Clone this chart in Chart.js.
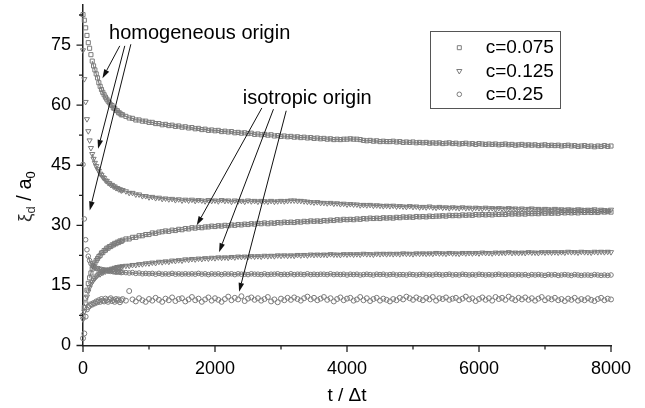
<!DOCTYPE html>
<html>
<head>
<meta charset="utf-8">
<script src="https://cdn.jsdelivr.net/npm/chart.js@4.4.1/dist/chart.umd.min.js"></script>
<style>
html,body{margin:0;padding:0;background:#fff;}
canvas{display:block;}
</style>
</head>
<body>
<canvas id="c" width="645" height="408"></canvas>
<script>
// ---- sample times (t / Δt) ----
const T_EARLY = [0,20,40,60,80,100,120,140,160,180,200,220,240,260,280,300,320,340,360,380,400,420,440,460,480,500,520,540,560,580,600];
const T_LATE = [650,700,750,800,850,900,950,1000,1050,1100,
1150,1200,1250,1300,1350,1400,1450,1500,1550,1600,
1650,1700,1750,1800,1850,1900,1950,2000,2050,2100,
2150,2200,2250,2300,2350,2400,2450,2500,2550,2600,
2650,2700,2750,2800,2850,2900,2950,3000,3050,3100,
3150,3200,3250,3300,3350,3400,3450,3500,3550,3600,
3650,3700,3750,3800,3850,3900,3950,4000,4050,4100,
4150,4200,4250,4300,4350,4400,4450,4500,4550,4600,
4650,4700,4750,4800,4850,4900,4950,5000,5050,5100,
5150,5200,5250,5300,5350,5400,5450,5500,5550,5600,
5650,5700,5750,5800,5850,5900,5950,6000,6050,6100,
6150,6200,6250,6300,6350,6400,6450,6500,6550,6600,
6650,6700,6750,6800,6850,6900,6950,7000,7050,7100,
7150,7200,7250,7300,7350,7400,7450,7500,7550,7600,
7650,7700,7750,7800,7850,7900,7950,8000];

// ---- c = 0.075, homogeneous origin (squares) ----
const sq075Homog = [82.6,81.2,79.3,77.4,75.6,74.2,72.6,71.0,69.8,68.8,67.8,66.8,65.6,64.7,63.9,63.2,62.6,62.0,61.5,61.0,60.6,60.1,59.9,59.3,59.2,58.7,58.6,58.1,58.0,57.6,57.6,
57.2,56.8,56.7,56.3,56.3,56.0,56.0,55.7,55.7,55.4,
55.4,55.1,55.2,54.9,55.0,54.7,54.8,54.5,54.6,54.3,
54.4,54.1,54.2,53.9,54.0,53.7,53.8,53.6,53.7,53.4,
53.5,53.3,53.4,53.1,53.2,53.0,53.1,52.9,53.0,52.7,
52.8,52.6,52.7,52.5,52.6,52.3,52.4,52.2,52.3,52.1,
52.2,52.0,52.1,51.9,52.0,51.8,51.9,51.7,51.8,51.6,
51.7,51.5,51.6,51.4,51.5,51.4,51.5,51.5,51.6,51.5,
51.5,51.4,51.2,51.1,51.2,51.0,51.1,50.9,51.0,50.9,
50.9,51.0,50.8,50.9,50.7,50.8,50.7,50.8,50.6,50.7,
50.6,50.7,50.5,50.6,50.5,50.6,50.4,50.5,50.6,50.4,
50.5,50.3,50.4,50.5,50.3,50.4,50.2,50.4,50.3,50.2,
50.3,50.2,50.3,50.1,50.2,50.3,50.1,50.2,50.0,50.1,
50.2,50.0,50.1,50.0,50.1,49.9,50.0,50.1,49.9,50.0,
49.9,50.0,49.8,49.9,50.0,49.8,49.9,49.7,49.8,49.9,
49.7,49.8,49.6,49.8,49.7,49.9,49.7,49.8];

// ---- c = 0.075, isotropic origin (squares) ----
const sq075Iso = [7.5,9.5,11.8,13.8,15.5,16.9,18.1,19.1,19.9,20.6,21.2,21.7,22.2,22.5,23.1,23.2,23.7,23.8,24.3,24.3,24.7,24.7,25.1,25.1,25.5,25.4,25.8,25.7,26.1,26.0,26.3,
26.6,26.6,27.0,27.0,27.4,27.4,27.7,27.7,28.1,28.0,
28.3,28.4,28.6,28.5,28.8,28.7,29.0,28.9,29.2,29.1,
29.4,29.3,29.5,29.4,29.6,29.6,29.8,29.7,29.9,29.8,
30.0,29.9,30.1,30.0,30.2,30.1,30.3,30.2,30.4,30.3,
30.5,30.4,30.6,30.4,30.6,30.5,30.7,30.6,30.8,30.7,
30.8,30.7,30.9,30.8,31.0,30.9,31.1,31.0,31.1,31.0,
31.2,31.1,31.3,31.2,31.4,31.3,31.5,31.4,31.5,31.4,
31.6,31.5,31.7,31.6,31.8,31.7,31.8,31.7,31.9,31.8,
31.9,31.8,32.0,31.9,32.1,32.0,32.1,32.0,32.2,32.1,
32.2,32.1,32.3,32.2,32.3,32.3,32.4,32.3,32.5,32.4,
32.5,32.4,32.6,32.5,32.6,32.5,32.7,32.6,32.7,32.6,
32.7,32.6,32.8,32.7,32.8,32.7,32.9,32.8,32.9,32.8,
32.9,32.8,33.0,32.9,33.0,32.9,33.1,33.0,33.1,33.0,
33.1,33.0,33.2,33.1,33.2,33.1,33.2,33.1,33.3,33.2,
33.3,33.2,33.3,33.2,33.4,33.3,33.4,33.3];

// ---- c = 0.125, homogeneous origin (triangles) ----
const tri125Homog = [73.7,66.5,60.8,56.5,53.5,51.2,49.3,47.8,46.6,45.6,44.8,44.1,43.6,42.9,42.6,42.0,41.8,41.2,41.1,40.6,40.5,40.1,40.1,39.7,39.7,39.3,39.3,39.0,39.0,38.7,38.8,
38.5,38.1,38.1,37.7,37.7,37.3,37.3,37.0,37.1,36.8,
36.9,36.6,36.7,36.5,36.6,36.3,36.5,36.2,36.4,36.2,
36.4,36.1,36.3,36.2,36.0,36.3,36.1,36.2,36.0,36.3,
36.1,36.2,35.9,36.2,36.0,36.1,35.9,36.2,36.0,36.1,
35.9,36.1,36.0,35.9,36.1,35.9,36.0,36.1,36.0,36.1,
36.2,36.2,36.1,36.1,36.0,35.9,35.8,35.7,35.8,35.6,
35.6,35.5,35.6,35.4,35.5,35.3,35.4,35.2,35.3,35.2,
35.2,35.0,35.1,35.0,35.1,34.9,35.0,34.9,34.8,34.9,
34.8,34.9,34.7,34.8,34.7,34.6,34.8,34.6,34.7,34.5,
34.6,34.5,34.7,34.5,34.4,34.6,34.4,34.5,34.3,34.5,
34.4,34.3,34.5,34.3,34.4,34.2,34.4,34.3,34.2,34.4,
34.2,34.3,34.1,34.3,34.2,34.1,34.3,34.1,34.2,34.0,
34.2,34.0,34.1,34.2,34.0,34.1,33.9,34.1,34.0,33.9,
34.1,33.9,34.0,33.8,34.0,33.9,33.8,34.0,33.9,33.8,
33.9,33.8,34.0,33.7,33.9,33.8,33.7,33.9];

// ---- c = 0.125, isotropic origin (triangles) ----
const tri125Iso = [6.5,8.5,10.5,12.2,13.5,14.5,15.3,15.9,16.4,16.8,17.2,17.5,17.8,17.8,18.2,18.2,18.5,18.5,18.8,18.7,19.0,18.9,19.2,19.1,19.4,19.3,19.6,19.4,19.7,19.6,19.8,
19.9,19.9,20.1,20.1,20.3,20.3,20.5,20.5,20.7,20.6,
20.9,20.8,21.0,20.9,21.2,21.1,21.3,21.2,21.5,21.4,
21.6,21.5,21.7,21.6,21.8,21.7,21.9,21.8,22.0,21.9,
22.0,21.9,22.1,22.0,22.2,22.1,22.2,22.1,22.3,22.2,
22.3,22.2,22.4,22.3,22.4,22.3,22.5,22.4,22.5,22.4,
22.5,22.4,22.6,22.5,22.6,22.5,22.7,22.6,22.7,22.6,
22.7,22.6,22.8,22.7,22.7,22.6,22.8,22.7,22.8,22.7,
22.8,22.7,22.9,22.8,22.8,22.7,22.9,22.8,22.9,22.8,
22.9,22.8,22.9,22.8,23.0,22.9,22.9,22.8,23.0,22.9,
23.0,22.9,23.0,22.9,23.1,23.0,23.0,22.9,23.1,23.0,
23.0,22.9,23.1,23.0,23.1,23.0,23.1,23.0,23.2,23.1,
23.1,23.0,23.2,23.1,23.2,23.1,23.3,23.1,23.2,23.1,
23.2,23.1,23.3,23.2,23.2,23.1,23.3,23.2,23.3,23.2,
23.3,23.2,23.3,23.2,23.4,23.3,23.3,23.2,23.4,23.3,
23.3,23.2,23.4,23.3,23.4,23.3,23.4,23.3];

// ---- c = 0.25, homogeneous origin (circles) ----
const ci25Homog = [45.2,31.6,26.4,23.9,22.3,21.2,20.5,20.0,19.7,19.5,19.3,19.1,19.2,18.9,19.0,18.8,18.9,18.7,18.8,18.6,18.7,18.5,18.6,18.4,18.5,18.3,18.5,18.3,18.4,18.2,18.3,
18.2,18.1,18.2,18.0,18.1,17.9,18.0,17.9,18.0,17.8,
18.0,17.8,17.9,17.8,18.0,17.8,17.9,17.8,17.9,17.8,
17.9,17.8,18.0,17.8,17.9,17.7,17.9,17.8,17.9,17.7,
17.9,17.8,17.9,17.7,17.9,17.8,17.8,17.7,17.9,17.8,
17.8,17.7,17.9,17.7,17.8,17.8,17.9,17.7,17.8,17.7,
17.9,17.7,17.8,17.8,17.7,17.9,17.7,17.8,17.7,17.8,
17.8,17.7,17.9,17.7,17.8,17.7,17.8,17.6,17.8,17.7,
17.8,17.6,17.7,17.8,17.7,17.6,17.8,17.7,17.8,17.6,
17.7,17.8,17.6,17.7,17.7,17.6,17.8,17.7,17.6,17.7,
17.8,17.6,17.7,17.6,17.8,17.7,17.6,17.7,17.8,17.6,
17.7,17.6,17.8,17.7,17.6,17.7,17.6,17.8,17.7,17.6,
17.7,17.6,17.7,17.8,17.6,17.7,17.6,17.7,17.6,17.7,
17.6,17.7,17.5,17.7,17.6,17.7,17.6,17.5,17.7,17.6,
17.7,17.5,17.6,17.7,17.6,17.5,17.7,17.6,17.5,17.6,
17.6,17.5,17.7,17.6,17.5,17.6,17.5,17.6];

// ---- c = 0.25, isotropic origin (circles) ----
const ci25Iso = [1.8,3.0,7.2,9.0,9.6,9.9,10.3,10.2,10.6,10.5,11.0,10.8,11.3,10.9,11.6,11.2,11.0,11.7,11.3,10.9,11.5,11.8,11.1,11.4,10.9,11.6,11.2,11.5,10.8,11.3,11.6,
11.2,13.6,11.5,11.0,11.8,11.3,10.9,11.6,11.2,11.9,
11.4,10.9,11.7,11.3,12.0,11.1,11.6,11.8,11.0,11.5,
12.1,11.3,11.7,10.9,11.5,12.0,11.2,11.8,11.4,10.9,
11.6,12.2,11.3,11.9,11.5,12.3,11.1,11.7,12.0,11.4,
11.8,11.2,11.6,12.1,11.0,11.5,10.8,11.7,11.3,11.9,
11.4,12.0,11.6,11.2,11.8,12.2,11.5,11.9,11.3,11.7,
12.1,11.4,11.8,11.0,11.6,12.0,11.3,11.7,11.9,11.2,
11.5,12.1,11.3,11.8,11.1,11.6,11.9,11.2,11.7,11.4,
11.0,11.6,11.3,11.9,11.5,12.2,11.8,11.4,12.0,11.6,
11.3,11.9,11.5,12.1,11.2,11.8,11.6,12.0,11.4,11.7,
11.9,11.3,11.7,12.2,11.5,11.8,11.1,11.6,12.0,11.4,
11.8,11.2,12.1,11.6,11.9,11.4,12.2,11.7,11.3,11.9,
11.5,12.0,11.4,11.8,11.2,11.7,12.1,11.3,11.8,11.5,
11.9,11.3,11.6,11.1,11.7,11.4,11.9,11.2,11.6,11.3,
11.8,11.4,11.1,11.6,11.9,11.3,11.7,11.5];

// ---- labels ----
const LEGEND_LABELS = ['c=0.075','c=0.125','c=0.25'];
const X_TICKS = [0,2000,4000,6000,8000];
const Y_TICKS = [0,15,30,45,60,75];
const HOMOG_LABEL = 'homogeneous origin';
const ISO_LABEL = 'isotropic origin';
// annotation anchors, in data units [t, value]
const HOMOG_TEXT_AT = [395, 76.4];
const HOMOG_ARROWS = [[[557,74.8],[295,66.7]], [[633,74.8],[228,49.1]], [[725,75.2],[102,33.7]]];
const ISO_TEXT_AT = [2421, 60.2];
const ISO_ARROWS = [[[2710,59.3],[1723,30.0]], [[2886,59.0],[2061,23.3]], [[3079,58.6],[2365,13.4]]];

const T = T_EARLY.concat(T_LATE);
const FONT = "'Liberation Sans', Arial, Helvetica, sans-serif";
const AXIS = '#222';
const MARK = '#7c7c7c';

function pts(vals){ return T.map((t,i)=>({x:t,y:vals[i]})); }
function ds(label, vals, style, r, rot, core){
  return {label, data: pts(vals), pointStyle: style, pointRadius: r, pointRotation: rot||0,
    borderColor: MARK, backgroundColor: 'rgba(0,0,0,0)', pointBorderColor: MARK, pointBorderWidth: 1, borderWidth: 1.2,
    showLine: core !== false, clip: false,
    segment: { borderColor: c => {
      const dx = c.p1.x - c.p0.x, dy = c.p1.y - c.p0.y;
      return (dx*dx + dy*dy) < 25 ? 'rgba(90,90,90,0.75)' : 'rgba(0,0,0,0)';
    } }
  };
}

function drawMarker(ctx, style, x, y){
  ctx.beginPath();
  if (style === 'rect'){ ctx.rect(x-2, y-2, 4, 4); }
  else if (style === 'tri'){ ctx.moveTo(x-2.6,y-1.5); ctx.lineTo(x+2.6,y-1.5); ctx.lineTo(x,y+3); ctx.closePath(); }
  else { ctx.arc(x, y, 2.3, 0, Math.PI*2); }
  ctx.stroke();
}

function arrow(ctx, x1, y1, x2, y2){
  const a = Math.atan2(y2-y1, x2-x1);
  const L = 9, W = 2.8;
  const bx = x2 - L*Math.cos(a), by = y2 - L*Math.sin(a);
  ctx.beginPath(); ctx.moveTo(x1,y1); ctx.lineTo(bx,by); ctx.stroke();
  ctx.beginPath();
  ctx.moveTo(x2,y2);
  ctx.lineTo(bx + W*Math.sin(a), by - W*Math.cos(a));
  ctx.lineTo(bx - W*Math.sin(a), by + W*Math.cos(a));
  ctx.closePath(); ctx.fill();
}

const extras = {
  id: 'extras',
  afterDraw(chart){
    const {ctx, chartArea: a, scales: {x, y}} = chart;
    ctx.save();
    // ticks
    ctx.strokeStyle = AXIS; ctx.lineWidth = 1.3;
    ctx.beginPath();
    X_TICKS.forEach(v=>{ const p = x.getPixelForValue(v); ctx.moveTo(p, a.bottom); ctx.lineTo(p, a.bottom+6.5); });
    for (let i=0;i<X_TICKS.length-1;i++){ const p = x.getPixelForValue((X_TICKS[i]+X_TICKS[i+1])/2); ctx.moveTo(p, a.bottom); ctx.lineTo(p, a.bottom+4); }
    Y_TICKS.forEach(v=>{ const p = y.getPixelForValue(v); ctx.moveTo(a.left, p); ctx.lineTo(a.left-6.5, p); });
    for (let i=0;i<Y_TICKS.length;i++){ const v = Y_TICKS[i] + 7.5; if (v < y.max){ const p = y.getPixelForValue(v); ctx.moveTo(a.left, p); ctx.lineTo(a.left-4, p);} }
    ctx.stroke();

    // axis titles
    ctx.fillStyle = '#000';
    ctx.font = '19px ' + FONT;
    ctx.textAlign = 'center'; ctx.textBaseline = 'alphabetic';
    ctx.fillText('t / \u0394t', 347, 401);

    ctx.save();
    ctx.translate(31, 222);
    ctx.rotate(-Math.PI/2);
    ctx.textAlign = 'left';
    let cx = 0;
    const seg = (txt, size, dy) => { ctx.font = size + 'px ' + FONT; ctx.fillText(txt, cx, dy); cx += ctx.measureText(txt).width; };
    ctx.fillStyle = '#333';
    seg('\u03BE', 19, 0);
    seg('d', 13, 4);
    ctx.fillStyle = '#000';
    seg(' / a', 20, 0);
    seg('0', 13, 4);
    ctx.restore();

    // legend
    ctx.strokeStyle = '#555'; ctx.lineWidth = 1;
    ctx.strokeRect(430.5, 31.5, 130, 77);
    const styles = ['rect','tri','circle'];
    const rows = [47.7, 71, 94.3];
    ctx.font = '19px ' + FONT; ctx.textAlign = 'left'; ctx.textBaseline = 'middle';
    LEGEND_LABELS.forEach((lab,i)=>{
      ctx.strokeStyle = MARK; ctx.lineWidth = 1;
      drawMarker(ctx, styles[i], 459.3, rows[i]);
      ctx.fillStyle = '#000';
      ctx.fillText(lab, 485.7, rows[i]+0.5);
    });

    // annotations
    ctx.strokeStyle = '#111'; ctx.fillStyle = '#111'; ctx.lineWidth = 1;
    const P = (d)=>[x.getPixelForValue(d[0]), y.getPixelForValue(d[1])];
    HOMOG_ARROWS.concat(ISO_ARROWS).forEach(([s,e])=>{ const [x1,y1]=P(s), [x2,y2]=P(e); arrow(ctx,x1,y1,x2,y2); });
    ctx.fillStyle = '#000';
    ctx.font = '20px ' + FONT; ctx.textAlign = 'left'; ctx.textBaseline = 'alphabetic';
    let p = P(HOMOG_TEXT_AT); ctx.fillText(HOMOG_LABEL, p[0], p[1]);
    p = P(ISO_TEXT_AT); ctx.fillText(ISO_LABEL, p[0], p[1]);
    ctx.restore();
  }
};

new Chart(document.getElementById('c'), {
  type: 'scatter',
  data: { datasets: [
    ds('c=0.075', sq075Homog, 'rect', 2.9),
    ds('c=0.075', sq075Iso, 'rect', 2.9),
    ds('c=0.125', tri125Homog, 'triangle', 3, 180),
    ds('c=0.125', tri125Iso, 'triangle', 3, 180),
    ds('c=0.25', ci25Homog, 'circle', 2.3),
    ds('c=0.25', ci25Iso, 'circle', 2.5, 0, false)
  ]},
  options: {
    responsive: false, animation: false, events: [],
    layout: { padding: { top: 4, right: 34, left: 0, bottom: 0 } },
    plugins: { legend: { display: false }, tooltip: { enabled: false } },
    scales: {
      x: { type: 'linear', min: 0, max: 8000,
        afterFit(s){ s.height = 62.5; s.paddingLeft = 0; s.paddingRight = 0; },
        afterBuildTicks(s){ s.ticks = X_TICKS.map(v=>({value:v})); },
        border: { display: true, color: AXIS, width: 1.5 },
        grid: { display: false, drawTicks: false },
        ticks: { padding: 13, color: '#000', font: { family: FONT, size: 18 }, maxRotation: 0, autoSkip: false,
          callback: v => String(v) }
      },
      y: { type: 'linear', min: 0, max: 85,
        afterFit(s){ s.width = 83; s.paddingTop = 0; s.paddingBottom = 0; },
        afterBuildTicks(s){ s.ticks = Y_TICKS.map(v=>({value:v})); },
        border: { display: true, color: AXIS, width: 1.5 },
        grid: { display: false, drawTicks: false },
        ticks: { padding: 12, color: '#000', font: { family: FONT, size: 18 }, autoSkip: false,
          callback: v => String(v) }
      }
    }
  },
  plugins: [extras]
});
</script>
</body>
</html>
